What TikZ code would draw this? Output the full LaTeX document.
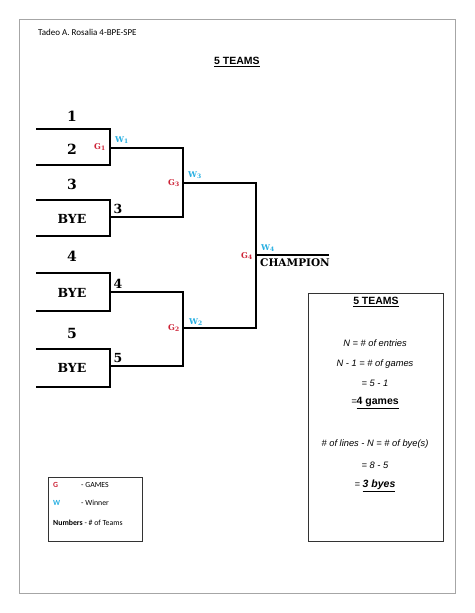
\documentclass[tikz,border=0pt]{standalone}
\usepackage{fontspec}
\usepackage{tikz}
\usetikzlibrary{calc,positioning}
\newfontfamily\slabfont{DejaVu Serif}
\newfontfamily\arialfont{Liberation Sans}
\newfontfamily\calfont{Carlito}
\definecolor{gamered}{RGB}{205,35,55}
\definecolor{winblue}{RGB}{40,175,225}
\tikzstyle{bracket}   = [line width=1.6pt, line cap=rect]
\tikzstyle{seed}      = [font=\slabfont\bfseries\fontsize{14}{14}\selectfont, inner sep=0pt]
\tikzstyle{byename}   = [font=\slabfont\bfseries\fontsize{12.5}{12.5}\selectfont, inner sep=0pt]
\tikzstyle{gamelbl}   = [text=gamered, font=\slabfont\bfseries\fontsize{8}{8}\selectfont, inner sep=0pt]
\tikzstyle{winlbl}    = [text=winblue, font=\slabfont\bfseries\fontsize{8}{8}\selectfont, inner sep=0pt]
\tikzstyle{infotext}  = [font=\arialfont\itshape\fontsize{9.3}{10}\selectfont, inner sep=0pt]
\tikzstyle{legendtext}= [font=\calfont\fontsize{7.8}{8}\selectfont, inner sep=0pt, anchor=west]

\begin{document}
\begin{tikzpicture}[x=1pt,y=-1pt]
        \useasboundingbox (0,0) rectangle (474,613);
        \draw[gray!70, line width=1pt] (19,19) rectangle (455,593);

        \node[anchor=west, font=\calfont\fontsize{9}{9}\selectfont, inner sep=0pt] (author) at (38,32) {Tadeo A. Rosalia 4-BPE-SPE};
        \node[font=\arialfont\bfseries\fontsize{10.5}{11}\selectfont, inner sep=0pt] (title) at (237,62) {\underline{5 TEAMS}};

        % first round boxes
        \foreach \t/\b in {129/165,200/236,273/311,349/387}
            \draw[bracket] (37,\t) -| (110,\b) -- (37,\b);

        \coordinate (g1) at (110,148);
        \coordinate (s3) at (110,217);
        \coordinate (s4) at (110,292);
        \coordinate (s5) at (110,366);
        \coordinate (g3) at (183,183);
        \coordinate (g2) at (183,328);
        \coordinate (g4) at (256,255);
        \coordinate (champ) at (328,255);

        \draw[bracket] (g1) -| (g3) |- (s3);
        \draw[bracket] (s4) -| (g2) |- (s5);
        \draw[bracket] (g3) -| (g4) |- (g2);
        \draw[bracket] (g4) -- (champ);

        % teams
        \node[seed] (t1) at (72,116) {1};
        \node[seed] (t2) at (72,149) {2};
        \node[seed] (t3) at (72,184) {3};
        \node[byename] (bye3) at (72,219) {BYE};
        \node[seed] (t4) at (72,256) {4};
        \node[byename] (bye4) at (72,293) {BYE};
        \node[seed] (t5) at (72,333) {5};
        \node[byename] (bye5) at (72,368) {BYE};
        \node[byename] (adv3) at (118,209) {3};
        \node[byename] (adv4) at (118,284) {4};
        \node[byename] (adv5) at (118,358) {5};

        % games and winners
        \node[gamelbl] (lg1) at (100,147) {G\textsubscript{1}};
        \node[winlbl]  (lw1) at (122,140) {W\textsubscript{1}};
        \node[gamelbl] (lg3) at (174,183) {G\textsubscript{3}};
        \node[winlbl]  (lw3) at (195,175) {W\textsubscript{3}};
        \node[gamelbl] (lg2) at (174,328) {G\textsubscript{2}};
        \node[winlbl]  (lw2) at (196,322) {W\textsubscript{2}};
        \node[gamelbl] (lg4) at (247,256) {G\textsubscript{4}};
        \node[winlbl]  (lw4) at (268,248) {W\textsubscript{4}};
        \node[font=\slabfont\bfseries\fontsize{10.5}{10.5}\selectfont, inner sep=0pt] (champion) at (295,263) {CHAMPION};

        % formula box
        \draw[line width=0.8pt, black!80] (308,293) rectangle (443,541);
        \node[font=\arialfont\bfseries\fontsize{10.5}{11}\selectfont, inner sep=0pt] (boxtitle) at (376,302) {\underline{5 TEAMS}};
        \node[infotext] (f1) at (375,343) {N = \# of entries};
        \node[infotext] (f2) at (375,364) {N - 1 = \# of games};
        \node[infotext] (f3) at (375,383) {= 5 - 1};
        \node[infotext] (f4) at (375,403) {=\upshape\bfseries\fontsize{10.5}{11}\selectfont\underline{4 games}};
        \node[infotext] (f5) at (375,444) {\# of lines - N = \# of bye(s)};
        \node[infotext] (f6) at (375,465) {= 8 - 5};
        \node[infotext] (f7) at (375,486) {= \bfseries\fontsize{10.5}{11}\selectfont\underline{3 byes}};

        % legend
        \draw[line width=0.8pt, black!80] (48,477) rectangle (142,541);
        \node[legendtext, text=gamered, font=\calfont\bfseries\fontsize{7.8}{8}\selectfont] (keyg) at (53,485) {G};
        \node[legendtext] (keygtext) at (81,485) {- GAMES};
        \node[legendtext, text=winblue, font=\calfont\bfseries\fontsize{7.8}{8}\selectfont] (keyw) at (53,503) {W};
        \node[legendtext] (keywtext) at (81,503) {- Winner};
        \node[legendtext] (keyn) at (53,523) {\textbf{Numbers} - \# of Teams};
    \end{tikzpicture}
\end{document}
